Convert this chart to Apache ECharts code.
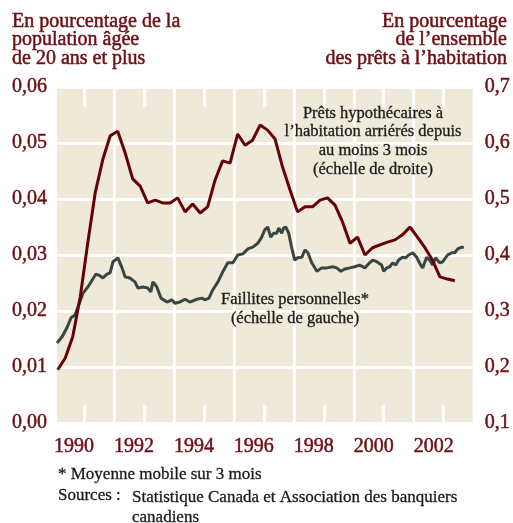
<!DOCTYPE html>
<html lang="fr">
<head>
<meta charset="utf-8" />
<title>Faillites personnelles et prêts hypothécaires arriérés</title>
<script src="https://cdn.jsdelivr.net/npm/echarts@6/dist/echarts.min.js"></script>
<style>
  html, body { margin: 0; padding: 0; background: #fff; }
  #chart { width: 513px; height: 523px; }
</style>
</head>
<body>
<div id="chart"></div>
<script>
// années étiquetées (petits traits blancs) et lignes de grille verticales
const anneesEtiquettes = [1990, 1992, 1994, 1996, 1998, 2000, 2002];
const anneesGrille = [1991, 1993, 1995, 1997, 1999, 2001];

// Faillites personnelles, moyenne mobile sur 3 mois (échelle de gauche)
const faillitesDates = [
  1989.10, 1989.27, 1989.43, 1989.57, 1989.70, 1989.80, 1989.97, 1990.13, 1990.27, 1990.40,
  1990.53, 1990.63, 1990.77, 1990.87, 1990.97, 1991.13, 1991.27, 1991.37, 1991.53, 1991.70,
  1991.80, 1991.97, 1992.13, 1992.23, 1992.30, 1992.43, 1992.57, 1992.77, 1992.93, 1993.03,
  1993.20, 1993.37, 1993.53, 1993.77, 1993.93, 1994.03, 1994.17, 1994.30, 1994.47, 1994.63,
  1994.80, 1994.97, 1995.13, 1995.30, 1995.47, 1995.63, 1995.80, 1995.93, 1996.03, 1996.13,
  1996.23, 1996.33, 1996.43, 1996.50, 1996.60, 1996.66, 1996.73, 1996.83, 1996.93, 1997.03,
  1997.13, 1997.27, 1997.37, 1997.47, 1997.60, 1997.77, 1997.93, 1998.10, 1998.30, 1998.43,
  1998.57, 1998.70, 1998.87, 1999.03, 1999.20, 1999.37, 1999.53, 1999.63, 1999.77, 1999.93,
  2000.00, 2000.10, 2000.20, 2000.30, 2000.40, 2000.50, 2000.63, 2000.73, 2000.83, 2000.97,
  2001.10, 2001.23, 2001.30, 2001.43, 2001.53, 2001.63, 2001.73, 2001.87, 2001.97, 2002.13,
  2002.27, 2002.37, 2002.47, 2002.60, 2002.67,
];
const faillitesValeurs = [
  0.0143, 0.0154, 0.0170, 0.0188, 0.0193, 0.0207, 0.0232, 0.0243, 0.0255, 0.0266,
  0.0263, 0.0259, 0.0266, 0.0268, 0.0288, 0.0295, 0.0277, 0.0261, 0.0259, 0.0252,
  0.0241, 0.0243, 0.0241, 0.0234, 0.0252, 0.0243, 0.0223, 0.0216, 0.0220, 0.0214,
  0.0216, 0.0221, 0.0216, 0.0221, 0.0223, 0.0220, 0.0223, 0.0238, 0.0252, 0.0270,
  0.0286, 0.0286, 0.0300, 0.0302, 0.0311, 0.0314, 0.0321, 0.0332, 0.0345, 0.0350,
  0.0332, 0.0339, 0.0339, 0.0348, 0.0339, 0.0348, 0.0350, 0.0339, 0.0313, 0.0291,
  0.0295, 0.0296, 0.0309, 0.0304, 0.0286, 0.0271, 0.0277, 0.0277, 0.0279, 0.0277,
  0.0271, 0.0275, 0.0277, 0.0279, 0.0282, 0.0277, 0.0286, 0.0291, 0.0288, 0.0282,
  0.0271, 0.0277, 0.0279, 0.0286, 0.0282, 0.0291, 0.0296, 0.0295, 0.0300, 0.0304,
  0.0296, 0.0282, 0.0277, 0.0296, 0.0291, 0.0282, 0.0295, 0.0286, 0.0288, 0.0300,
  0.0304, 0.0304, 0.0311, 0.0314, 0.0313,
];

// Prêts hypothécaires à l'habitation arriérés depuis au moins 3 mois (échelle de droite)
const pretsDates = [
  1989.125, 1989.375, 1989.625, 1989.875, 1990.125, 1990.375, 1990.625, 1990.875,
  1991.125, 1991.375, 1991.625, 1991.875, 1992.125, 1992.375, 1992.625, 1992.875,
  1993.125, 1993.375, 1993.625, 1993.875, 1994.125, 1994.375, 1994.625, 1994.875,
  1995.125, 1995.375, 1995.625, 1995.875, 1996.125, 1996.375, 1996.625, 1996.875,
  1997.125, 1997.375, 1997.625, 1997.875, 1998.125, 1998.375, 1998.625, 1998.875,
  1999.125, 1999.375, 1999.625, 1999.875, 2000.125, 2000.375, 2000.625, 2000.875,
  2001.125, 2001.375, 2001.625, 2001.875, 2002.125, 2002.375,
];
const pretsValeurs = [
  0.195, 0.216, 0.254, 0.325, 0.421, 0.511, 0.570, 0.613,
  0.621, 0.582, 0.536, 0.523, 0.493, 0.498, 0.493, 0.493,
  0.502, 0.477, 0.491, 0.475, 0.486, 0.534, 0.568, 0.564,
  0.616, 0.596, 0.605, 0.632, 0.623, 0.607, 0.557, 0.516,
  0.477, 0.486, 0.486, 0.498, 0.502, 0.489, 0.459, 0.421,
  0.432, 0.400, 0.413, 0.418, 0.423, 0.427, 0.436, 0.450,
  0.432, 0.413, 0.391, 0.361, 0.357, 0.354,
];

const bordeaux = '#6e0f14';
const noir = '#1a1a1a';
const police = '"Liberation Serif", "DejaVu Serif", serif';
const xMin = 1989.1;
const xMax = 2002.97;

const chart = echarts.init(document.getElementById('chart'));

// texte libre (titres, annotations, notes), au-dessus de la grille
const texte = (x, y, text, opts) => ({
  type: 'text',
  x,
  y,
  z: 100,
  silent: true,
  style: Object.assign(
    {
      text,
      font: '20px ' + police,
      fill: bordeaux,
      stroke: bordeaux,
      lineWidth: 0.5,
      align: 'left',
      verticalAlign: 'top',
    },
    opts,
  ),
});

const etiquette = {
  color: bordeaux,
  fontFamily: police,
  fontSize: 20,
  textBorderColor: bordeaux,
  textBorderWidth: 0.5,
};

const option = {
  animation: false,
  grid: {
    left: 57,
    right: 40,
    top: 87,
    bottom: 100,
    show: true,
    backgroundColor: '#eee9d8',
    borderWidth: 0,
  },
  xAxis: [
    {
      // axe des années (traits blancs du bas + étiquettes)
      type: 'value',
      position: 'bottom',
      min: xMin,
      max: xMax,
      z: 0,
      axisLine: { show: false },
      splitLine: { show: false },
      axisTick: {
        show: true,
        inside: true,
        length: 18,
        customValues: anneesEtiquettes,
        lineStyle: { color: '#fff', width: 3 },
      },
      axisLabel: Object.assign({}, etiquette, {
        show: true,
        customValues: anneesEtiquettes,
        margin: 14,
        padding: [0, 20, 0, 0],
        formatter: (v) => String(v),
      }),
    },
    {
      // traits blancs du haut
      type: 'value',
      position: 'top',
      min: xMin,
      max: xMax,
      z: 0,
      axisLine: { show: false },
      splitLine: { show: false },
      axisLabel: { show: false },
      axisTick: {
        show: true,
        inside: true,
        length: 20,
        customValues: anneesEtiquettes,
        lineStyle: { color: '#fff', width: 3 },
      },
    },
    {
      // grille verticale (années impaires)
      type: 'value',
      position: 'bottom',
      min: xMin,
      max: xMax,
      z: 0,
      axisLine: { show: false },
      splitLine: { show: false },
      axisLabel: { show: false },
      axisTick: {
        show: true,
        inside: true,
        length: 336,
        customValues: anneesGrille,
        lineStyle: { color: '#fff', width: 3 },
      },
    },
  ],
  yAxis: [
    {
      type: 'value',
      position: 'left',
      min: 0,
      max: 0.06,
      interval: 0.01,
      axisLine: { show: false },
      axisTick: { show: false },
      splitLine: { show: true, lineStyle: { color: '#fff', width: 3 } },
      axisLabel: Object.assign({}, etiquette, {
        margin: 10,
        formatter: (v) => v.toFixed(2).replace('.', ','),
      }),
    },
    {
      type: 'value',
      position: 'right',
      min: 0.1,
      max: 0.7,
      interval: 0.1,
      axisLine: { show: false },
      axisTick: { show: false },
      splitLine: { show: false },
      axisLabel: Object.assign({}, etiquette, {
        margin: 12,
        formatter: (v) => v.toFixed(1).replace('.', ','),
      }),
    },
  ],
  series: [
    {
      name: 'Faillites personnelles',
      type: 'line',
      xAxisIndex: 0,
      yAxisIndex: 0,
      showSymbol: false,
      data: faillitesDates.map((d, i) => [d, faillitesValeurs[i]]),
      lineStyle: { color: '#3a4643', width: 3 },
      z: 5,
    },
    {
      name: 'Prêts hypothécaires arriérés',
      type: 'line',
      xAxisIndex: 0,
      yAxisIndex: 1,
      showSymbol: false,
      data: pretsDates.map((d, i) => [d, pretsValeurs[i]]),
      lineStyle: { color: '#680007', width: 3 },
      z: 6,
    },
  ],
  graphic: [
    // titres des axes
    texte(12, 12, 'En pourcentage de la\npopulation âgée\nde 20 ans et plus', { lineHeight: 18.5 }),
    texte(507, 12, 'En pourcentage\nde l’ensemble\ndes prêts à l’habitation', {
      lineHeight: 18.5,
      align: 'right',
    }),
    // annotations des courbes
    texte(373, 104, 'Prêts hypothécaires à\nl’habitation arriérés depuis\nau moins 3 mois\n(échelle de droite)', {
      font: '16.5px ' + police,
      fill: noir,
      stroke: noir,
      lineWidth: 0.3,
      align: 'center',
      lineHeight: 18.7,
    }),
    texte(295, 290.5, 'Faillites personnelles*\n(échelle de gauche)', {
      font: '16.5px ' + police,
      fill: noir,
      stroke: noir,
      lineWidth: 0.3,
      align: 'center',
      lineHeight: 19,
    }),
    // notes
    texte(58, 466, '* Moyenne mobile sur 3 mois', {
      font: '17px ' + police, fill: noir, stroke: noir, lineWidth: 0.3,
    }),
    texte(58, 487, 'Sources :', {
      font: '17px ' + police, fill: noir, stroke: noir, lineWidth: 0.3,
    }),
    texte(132, 487, 'Statistique Canada et Association des banquiers\ncanadiens', {
      font: '17px ' + police,
      fill: noir,
      stroke: noir,
      lineWidth: 0.3,
      lineHeight: 20.5,
    }),
  ],
};

chart.setOption(option);
</script>
</body>
</html>
